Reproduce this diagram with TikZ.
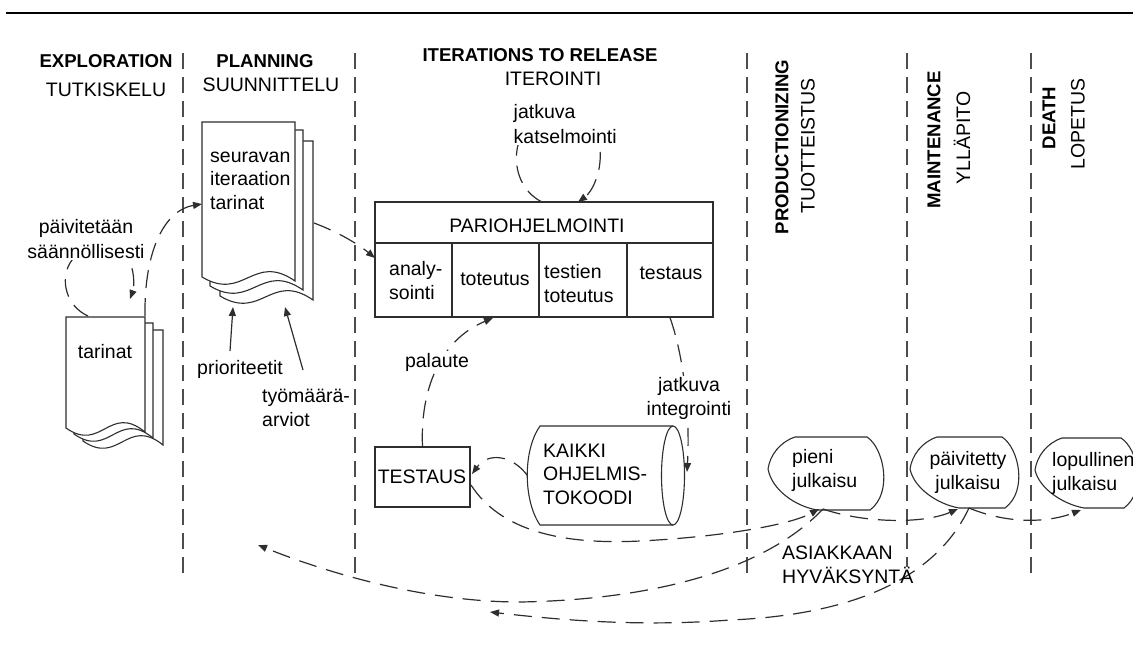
\documentclass[tikz,border=0pt]{standalone}
\usepackage{fontspec}
\setmainfont{Liberation Sans}
\usetikzlibrary{arrows.meta}
\definecolor{ink}{HTML}{2E2E2E}
\definecolor{phase}{HTML}{4D4D4D}

% one sheet of a document stack: left, top, right, bottom-left corner
\newcommand\docpage[4]{%
  \path[outline] (#1,#2) -- (#3,#2) -- (#3,{#4+4})
    .. controls ({#1+0.55*(#3-#1)},{#4-25}) and ({#1+0.45*(#3-#1)},{#4+25}) .. (#1,#4) -- cycle;}

% release bubble: left, top, right, bottom
\newcommand\relshape[4]{%
  \path[outline] ({#1+27},#2) -- ({#3-21},#2)
    .. controls ({#3-4},{#2+11}) and ({#3+5},{#4-17}) .. ({#3-18},#4)
    -- ({#1+49},#4)
    .. controls ({#1+27},{#4-4}) and ({#1+4},{#4-20}) .. (#1,{#2+32})
    .. controls ({#1+2},{#2+18}) and ({#1+12},{#2+5}) .. ({#1+27},#2) -- cycle;}

\begin{document}
\begin{tikzpicture}[x=1pt,y=-1pt,
  lab/.style={font=\fontsize{19.5}{23.5}\selectfont, inner sep=0pt},
  lab25/.style={font=\fontsize{19.5}{25}\selectfont, inner sep=0pt},
  blank/.style={fill=white, inner sep=1.5pt},
  hbold/.style={font=\fontsize{18.6}{22}\selectfont\bfseries, inner sep=0pt},
  hreg/.style={font=\fontsize{19.5}{23}\selectfont, inner sep=0pt},
  phaseline/.style={draw=phase, line width=2pt, dash pattern=on 16pt off 8pt},
  outline/.style={draw=ink, line width=1.1pt, fill=white},
  boxcell/.style={draw=ink, line width=1.3pt, inner sep=0pt, minimum height=74pt, minimum width=#1},
  flow/.style={draw=ink, line width=1.2pt, dash pattern=on 18pt off 10pt,
    -{Triangle[length=9pt,width=7pt]}},
  solidflow/.style={draw=ink, line width=1.2pt, -{Triangle[length=9pt,width=7pt]}},
]
\useasboundingbox (0,0) rectangle (1133,654);
\clip (0,0) rectangle (1133,654);

% rule at the top
\draw[line width=2.6pt] (6,13) -- (1140,13);

% phase separators
\foreach \x/\b in {183/575,355/573,747/573,907/567,1031/573}
  \draw[phaseline] (\x,53) -- (\x,\b);

% phase headings
\node[hbold, anchor=base] (hExp)   at (106,67) {EXPLORATION};
\node[hreg,  anchor=base] (hExpF)  at (106,96) {TUTKISKELU};
\node[hbold, anchor=base] (hPlan)  at (265,67) {PLANNING};
\node[hreg,  anchor=base] (hPlanF) at (271,91) {SUUNNITTELU};
\node[hbold, anchor=base] (hIter)  at (540,61) {ITERATIONS TO RELEASE};
\node[hreg,  anchor=base] (hIterF) at (553,85) {ITEROINTI};
\node[hbold, rotate=90] (hProd)   at (782,147) {PRODUCTIONIZING};
\node[hreg,  rotate=90] (hProdF)  at (808,146) {TUOTTEISTUS};
\node[hbold, rotate=90] (hMaint)  at (934,140) {MAINTENANCE};
\node[hreg,  rotate=90] (hMaintF) at (962,138) {YLLÄPITO};
\node[hbold, rotate=90] (hDeath)  at (1049,118) {DEATH};
\node[hreg,  rotate=90] (hDeathF) at (1078,124) {LOPETUS};

% story stack (exploration)
\docpage{83}{330}{163}{441}
\docpage{74}{323}{153}{434}
\docpage{66}{317}{145}{428}
\node[lab, anchor=base] (stories) at (105,358) {tarinat};

% next-iteration story stack (planning)
\docpage{220}{141}{313}{296}
\docpage{210}{130}{303}{286}
\docpage{202}{122}{295}{277}
\node[lab, anchor=base west, align=left] (nextStories) at (210,209)
  {seuravan\\iteraation\\tarinat};

% pair programming block
\node[draw=ink, line width=1.3pt, minimum width=338pt, minimum height=41pt, inner sep=0pt]
  (pari) at (544,222.5) {};
\node[boxcell=77] (cA) at (413.5,280) {};
\node[boxcell=87] (cB) at (495.5,280) {};
\node[boxcell=88] (cC) at (583,280) {};
\node[boxcell=86] (cD) at (670,280) {};
\node[lab, anchor=base] (tPari) at (537,232) {PARIOHJELMOINTI};
\node[lab, anchor=base west, align=left] (tA) at (389,299) {analy-\\sointi};
\node[lab, anchor=base] (tB) at (495,285) {toteutus};
\node[lab, anchor=base west, align=left] (tC) at (544,302) {testien\\toteutus};
\node[lab, anchor=base] (tD) at (671,279) {testaus};

% testing box
\node[draw=ink, line width=1.3pt, minimum width=95pt, minimum height=60pt, inner sep=0pt]
  (testbox) at (422.5,477) {};
\node[lab, anchor=base] (tTest) at (422,483) {TESTAUS};

% code base cylinder
\path[fill=white] (540,426) -- (673,426) -- (673,525) -- (540,525)
  .. controls (523,500) and (523,450) .. (540,426) -- cycle;
\draw[draw=ink, line width=1.1pt] (673,426) -- (540,426)
  .. controls (523,450) and (523,500) .. (540,525) -- (673,525);
\path[outline] (673,475.5) ellipse [x radius=11.5, y radius=49.5];
\node[lab, anchor=base west, align=left] (code) at (543,504)
  {KAIKKI\\OHJELMIS-\\TOKOODI};

% releases
\relshape{768}{437}{888}{510}
\relshape{910}{437}{1023}{508}
\relshape{1035}{438}{1142}{508}
\node[lab, anchor=base west, align=left] (rel1) at (792,487) {pieni\\julkaisu};
\node[lab, anchor=base, align=center] (rel2) at (968,489) {päivitetty\\julkaisu};
\node[lab, anchor=base west, align=left] (rel3) at (1052,490) {lopullinen\\julkaisu};

% connector end points
\coordinate (storiesTop) at (88,316);
\coordinate (loopEnd)    at (130,299);
\coordinate (storiesTR)  at (145,316);
\coordinate (nextIn)     at (202,204);
\coordinate (nextOut)    at (314,223);
\coordinate (pariIn)     at (375,258);
\coordinate (prioFrom)   at (230,351);
\coordinate (prioTo)     at (233,307);
\coordinate (effFrom)    at (303,370);
\coordinate (effTo)      at (285,307);
\coordinate (pariTopL)   at (542,202);
\coordinate (pariTopR)   at (578,202);
\coordinate (feedIn)     at (493,318);
\coordinate (integIn)    at (687,472);
\coordinate (codeW)      at (527,475);
\coordinate (testIn)     at (472,474);
\coordinate (testOut)    at (471,485);
\coordinate (rel1In)     at (819,509);
\coordinate (rel1Out)    at (823,509);
\coordinate (rel2In)     at (958,509);
\coordinate (rel2Out)    at (969,508);
\coordinate (rel3In)     at (1081,510);
\coordinate (planIn)     at (258,545);
\coordinate (iterIn)     at (490,612);

% exploration loop and hand-over to planning
\draw[flow] (storiesTop) .. controls (66,306) and (60,280) .. (70,263)
  .. controls (80,245) and (120,240) .. (130,262)
  .. controls (135,275) and (134,288) .. (loopEnd);
\draw[flow] (storiesTR) .. controls (144,250) and (165,210) .. (nextIn);
\draw[flow] (nextOut) .. controls (338,232) and (358,244) .. (pariIn);
\draw[solidflow] (prioFrom) -- (prioTo);
\draw[solidflow] (effFrom) -- (effTo);

% iteration loops
\draw[flow] (pariTopL) .. controls (522,192) and (514,170) .. (517,150)
  .. controls (520,118) and (597,118) .. (600,150)
  .. controls (602,172) and (592,192) .. (pariTopR);
\draw[flow] (testbox.north) .. controls (420,390) and (440,340) .. (feedIn);
\draw[flow] (cD.south) .. controls (685,360) and (690,420) .. (integIn);
\draw[flow] (codeW) .. controls (512,455) and (488,452) .. (testIn);

% releases and customer acceptance
\draw[flow] (testOut) .. controls (500,530) and (560,545) .. (640,541)
  .. controls (720,537) and (790,525) .. (rel1In);
\draw[flow] (rel1Out) .. controls (860,522) and (920,525) .. (rel2In);
\draw[flow] (rel2Out) .. controls (1010,525) and (1050,522) .. (rel3In);
\draw[flow] (rel1Out) .. controls (760,575) and (640,600) .. (520,602)
  .. controls (420,602) and (320,570) .. (planIn);
\draw[flow] (rel2Out) .. controls (935,580) and (850,615) .. (730,620)
  .. controls (640,627) and (560,620) .. (iterIn);

% labels on connectors
\node[lab25, blank, anchor=base, align=center] (upd) at (86,258)
  {päivitetään\\säännöllisesti};
\node[lab, anchor=base] (prio) at (240,374) {prioriteetit};
\node[lab, anchor=base west, align=left] (eff) at (262,426) {työmäärä-\\arviot};
\node[lab25, blank, anchor=base west, align=left] (review) at (512,143)
  {jatkuva\\katselmointi};
\node[lab, blank, anchor=base] (feedback) at (437,367) {palaute};
\node[lab, blank, anchor=base, align=center] (integ) at (689,415)
  {jatkuva\\integrointi};
\node[lab, anchor=base west, align=left] (accept) at (782,583)
  {ASIAKKAAN\\HYVÄKSYNTÄ};
\end{tikzpicture}
\end{document}
